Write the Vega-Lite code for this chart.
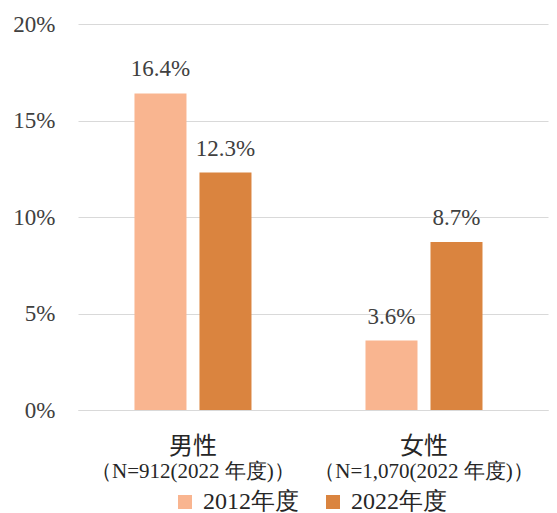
{
  "$schema": "https://vega.github.io/schema/vega-lite/v6.json",
  "width": 470,
  "height": 386,
  "autosize": "none",
  "padding": {"left": 78, "top": 24, "right": 9, "bottom": 103},
  "background": "white",
  "config": {
    "view": {"stroke": null},
    "font": "Liberation Serif"
  },
  "datasets": {
    "bars": [
      {"cat": "男性", "year": "2012年度", "value": 0.164},
      {"cat": "男性", "year": "2022年度", "value": 0.123},
      {"cat": "女性", "year": "2012年度", "value": 0.036},
      {"cat": "女性", "year": "2022年度", "value": 0.087}
    ],
    "cats": [
      {"cat": "男性", "n": "（N=912(2022 年度)）"},
      {"cat": "女性", "n": "（N=1,070(2022 年度)）"}
    ]
  },
  "layer": [
    {
      "data": {"name": "bars"},
      "mark": {"type": "bar"},
      "encoding": {
        "x": {
          "field": "cat", "type": "nominal", "sort": ["男性", "女性"],
          "scale": {"paddingInner": 0.4935, "paddingOuter": 0.264, "align": 0.463},
          "axis": {
            "title": null, "labelAngle": 0, "ticks": false, "domain": true,
            "domainColor": "#d9d9d9", "labelFontSize": 24, "labelColor": "#262626",
            "labelPadding": 24, "labelFont": "Noto Sans CJK JP"
          }
        },
        "xOffset": {
          "field": "year", "type": "nominal", "sort": ["2012年度", "2022年度"],
          "scale": {"paddingInner": 0.2, "paddingOuter": 0}
        },
        "y": {
          "field": "value", "type": "quantitative",
          "scale": {"domain": [0, 0.2], "nice": false},
          "axis": {
            "title": null, "values": [0, 0.05, 0.1, 0.15, 0.2], "format": ".0%",
            "domain": false, "ticks": false, "gridColor": "#d9d9d9",
            "labelFontSize": 23, "labelColor": "#404040", "labelPadding": 23,
            "labelFont": "Liberation Serif"
          }
        },
        "color": {
          "field": "year", "type": "nominal", "sort": ["2012年度", "2022年度"],
          "scale": {"range": ["#F9B590", "#DA843F"]},
          "legend": {
            "title": null, "orient": "none", "direction": "horizontal",
            "legendX": 95, "legendY": 466, "padding": 0,
            "symbolType": "square", "symbolSize": 196, "symbolStrokeWidth": 0,
            "labelFontSize": 24, "labelColor": "#262626", "columnPadding": 22,
            "labelOffset": 6, "labelFont": "Liberation Serif"
          }
        }
      }
    },
    {
      "data": {"name": "bars"},
      "mark": {"type": "text", "baseline": "alphabetic", "dy": -17, "fontSize": 23, "color": "#404040", "font": "Liberation Serif"},
      "encoding": {
        "x": {"field": "cat", "type": "nominal", "sort": ["男性", "女性"]},
        "xOffset": {"field": "year", "type": "nominal", "sort": ["2012年度", "2022年度"]},
        "y": {"field": "value", "type": "quantitative"},
        "text": {"field": "value", "type": "quantitative", "format": ".1%"}
      }
    },
    {
      "data": {"name": "cats"},
      "mark": {"type": "text", "baseline": "middle", "dy": 62, "fontSize": 21, "color": "#262626", "font": "Liberation Serif"},
      "encoding": {
        "x": {"field": "cat", "type": "nominal", "sort": ["男性", "女性"]},
        "y": {"datum": 0},
        "text": {"field": "n"}
      }
    }
  ]
}
